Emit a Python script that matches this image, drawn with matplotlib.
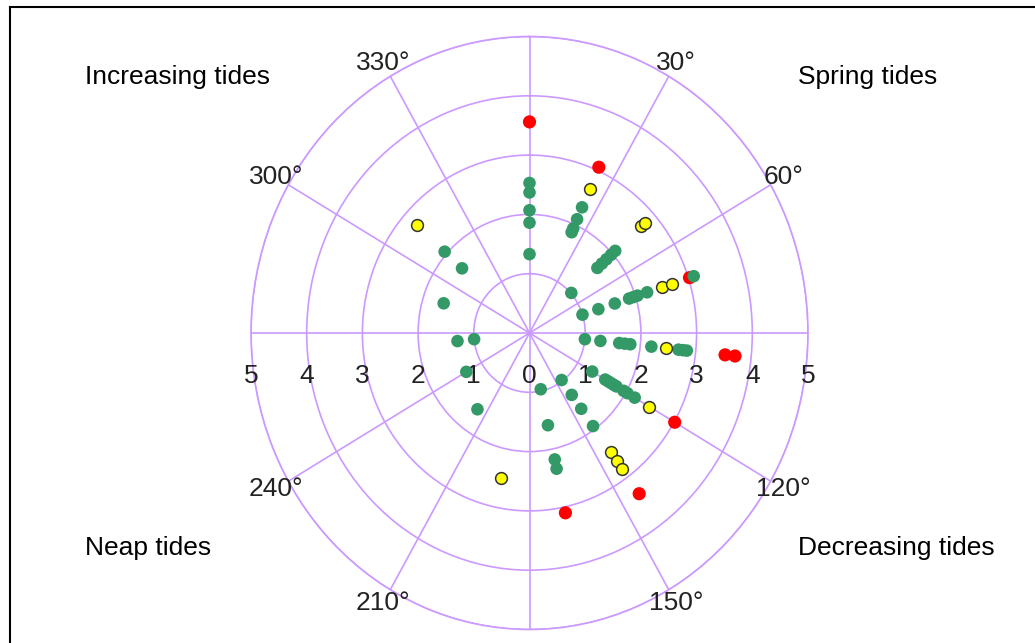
import matplotlib
matplotlib.use('Agg')
import matplotlib.pyplot as plt
import numpy as np
from matplotlib.transforms import ScaledTranslation
from matplotlib.lines import Line2D

plt.rcParams['font.family'] = ['Liberation Sans', 'DejaVu Sans']

# ---- data (angle in degrees, radius) ----
green_theta = [0, 0, 0, 0, 0,
               24, 24, 24, 24,
               48, 48, 48, 48, 48, 48,
               72, 72, 72, 72, 72, 72, 72, 72,
               96, 96, 96, 96, 96, 96, 96, 96, 96,
               120, 120, 120, 120, 120, 120, 120, 120, 120,
               144, 144, 144, 144,
               168, 168, 168, 168,
               216, 240, 264, 264, 288, 312, 312]
green_r = [1.33, 1.86, 2.07, 2.37, 2.53,
           1.86, 1.93, 2.10, 2.32,
           1.01, 1.64, 1.75, 1.86, 1.97, 2.07,
           1.00, 1.30, 1.61, 1.88, 1.96, 2.04, 2.22, 3.10,
           1.00, 1.28, 1.62, 1.72, 1.82, 2.20, 2.69, 2.77, 2.84,
           1.30, 1.57, 1.63, 1.69, 1.75, 1.80, 1.95, 2.03, 2.18,
           0.98, 1.29, 1.58, 1.94,
           0.97, 1.59, 2.18, 2.34,
           1.59, 1.31, 1.00, 1.30, 1.62, 1.63, 2.05]

yellow_theta = [24, 48, 48, 72, 72, 96, 120, 144, 144, 144, 192, 312]
yellow_r = [2.65, 2.69, 2.78, 2.50, 2.69, 2.46, 2.48, 2.48, 2.67, 2.83, 2.50, 2.71]

red_theta = [0, 24, 72, 96, 96, 120, 144, 168]
red_r = [3.56, 3.06, 3.02, 3.53, 3.71, 3.01, 3.35, 3.10]

angle_labels = [30, 60, 120, 150, 210, 240, 300, 330]
radial_ticks = [1, 2, 3, 4, 5]
quadrant_labels = ["Increasing tides", "Spring tides", "Neap tides", "Decreasing tides"]

GRID = '#CC99FF'
FS = 19

fig = plt.figure(figsize=(10.35, 6.43), dpi=100)
ax = fig.add_axes([251 / 1035, 13.5 / 643, 557 / 1035, 593 / 643], projection='polar')
ax.set_aspect('auto')
ax.set_theta_zero_location('N')
ax.set_theta_direction(-1)
ax.set_ylim(0, 5)
ax.set_rgrids(radial_ticks, labels=[''] * len(radial_ticks))
ax.set_thetagrids(range(0, 360, 30), labels=[''] * 12)
ax.grid(True, color=GRID, linewidth=1.2)
ax.spines['polar'].set_color(GRID)
ax.spines['polar'].set_linewidth(1.2)
ax.tick_params(length=0)

ax.scatter(np.deg2rad(red_theta), red_r, s=90, color='#FF0000', edgecolors='none', zorder=3)
ax.scatter(np.deg2rad(green_theta), green_r, s=82, color='#339966', edgecolors='none', zorder=4)
ax.scatter(np.deg2rad(yellow_theta), yellow_r, s=72, color='#FFFF00', edgecolors='#333333',
           linewidths=1.1, zorder=5)

# angle labels
for a in angle_labels:
    ax.text(np.deg2rad(a), 5.26, f'{a}°', ha='center', va='center', fontsize=FS,
            color='#222222', clip_on=False)

# radial labels along horizontal axis
off = ax.transData + ScaledTranslation(0, -0.43, fig.dpi_scale_trans)
ax.text(0, 0, '0', transform=off, ha='center', va='center', fontsize=FS, color='#222222')
for r in radial_ticks:
    for th in (90, 270):
        ax.text(np.deg2rad(th), r, str(r), transform=off, ha='center', va='center',
                fontsize=FS, color='#222222', clip_on=False)

# quadrant labels
pos = [(85, 77), (798, 77), (85, 548), (798, 548)]
for (px, py), t in zip(pos, quadrant_labels):
    fig.text(px / 1035, 1 - py / 643, t, ha='left', va='center', fontsize=FS, color='black')

# frame
fig.add_artist(Line2D([10 / 1035, 10 / 1035], [0, 1 - 7 / 643], transform=fig.transFigure,
                      color='black', linewidth=1.5))
fig.add_artist(Line2D([10 / 1035, 1], [1 - 7 / 643, 1 - 7 / 643], transform=fig.transFigure,
                      color='black', linewidth=1.5))

fig.savefig('out.png', dpi=100)
